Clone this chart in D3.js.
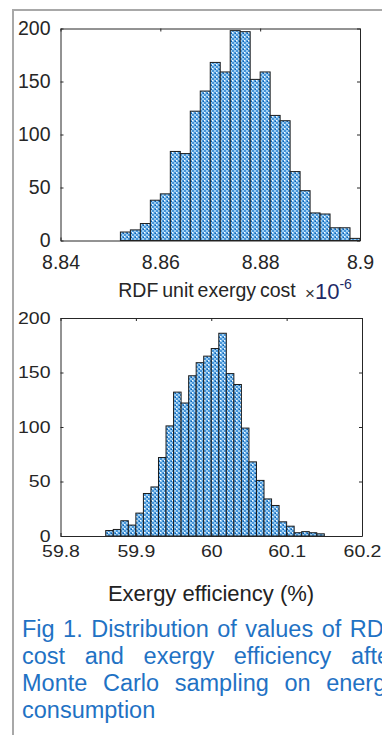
<!DOCTYPE html>
<html>
<head>
<meta charset="utf-8">
<script src="https://cdn.jsdelivr.net/npm/d3@7"></script>
<style>
  html, body { margin: 0; padding: 0; background: #ffffff; }
  svg { display: block; }
  text { font-family: "Liberation Sans", Arial, sans-serif; }
</style>
</head>
<body>
<svg id="fig" width="382" height="735"></svg>
<script>
// Histogram counts after Monte Carlo sampling
const countTicks = [0, 50, 100, 150, 200];

const costTicks = [8.84, 8.86, 8.88, 8.9];
const costTickLabels = ["8.84", "8.86", "8.88", "8.9"];
const costBinStart = 8.852;
const costBinWidth = 0.002;
const costCounts = [8, 10, 16, 38, 44, 84, 82, 122, 141, 168, 159, 198,
                    197, 152, 159, 118, 113, 65, 47, 26, 25, 12, 12, 2];

const effTicks = [59.8, 59.9, 60, 60.1, 60.2];
const effTickLabels = ["59.8", "59.9", "60", "60.1", "60.2"];
const effBinStart = 59.86;
const effBinWidth = 0.01;
const effCounts = [5, 6, 14, 10, 21, 39, 45, 72, 101, 132, 122, 147, 159,
                   165, 172, 186, 149, 139, 99, 68, 51, 34, 28, 13, 9, 3, 4, 3, 2];

const captionLines = [
  "Fig 1. Distribution of values of RDF",
  "cost and exergy efficiency after",
  "Monte Carlo sampling on energy",
  "consumption"
];

const svg = d3.select("#fig");

// dotted blue fill used by the histogram bars
const defs = svg.append("defs");
const pat = defs.append("pattern")
  .attr("id", "barFill")
  .attr("patternUnits", "userSpaceOnUse")
  .attr("width", 4).attr("height", 4);
pat.append("rect").attr("width", 4).attr("height", 4).attr("fill", "#4795d8");
pat.append("rect").attr("x", 0).attr("y", 0).attr("width", 2).attr("height", 2).attr("fill", "#9ccdf2");
pat.append("rect").attr("x", 2).attr("y", 2).attr("width", 2).attr("height", 2).attr("fill", "#9ccdf2");
pat.append("rect").attr("x", 0).attr("y", 0).attr("width", 1).attr("height", 1).attr("fill", "#ffffff");
pat.append("rect").attr("x", 3).attr("y", 1).attr("width", 1).attr("height", 1).attr("fill", "#0a5cae");

// outer frame of the figure panel
svg.append("path")
  .attr("d", "M13,735V10H382")
  .attr("fill", "none")
  .attr("stroke", "#a8a8a8")
  .attr("stroke-width", 2);

function histogram(opts) {
  const g = svg.append("g");
  const x = d3.scaleLinear().domain(opts.xDomain).range([opts.left, opts.right]);
  const y = d3.scaleLinear().domain([0, 200]).range([opts.bottom, opts.top]);

  const bins = opts.counts.map((c, i) => ({
    x0: opts.binStart + i * opts.binWidth,
    x1: opts.binStart + (i + 1) * opts.binWidth,
    n: c
  }));

  g.selectAll("rect.bar")
    .data(bins)
    .join("rect")
    .attr("class", "bar")
    .attr("x", d => x(d.x0))
    .attr("width", d => x(d.x1) - x(d.x0))
    .attr("y", d => y(d.n))
    .attr("height", d => y(0) - y(d.n))
    .attr("fill", "url(#barFill)")
    .attr("stroke", "#1c1c1c")
    .attr("stroke-width", 1);

  // box with inward ticks on all four sides
  const tick = 3;
  const axL = g.append("g").attr("transform", `translate(${opts.left},0)`)
    .call(d3.axisLeft(y).tickValues(countTicks).tickSizeInner(-tick).tickSizeOuter(0).tickPadding(opts.yPad));
  const axR = g.append("g").attr("transform", `translate(${opts.right},0)`)
    .call(d3.axisRight(y).tickValues(countTicks).tickSizeInner(-tick).tickSizeOuter(0).tickFormat(""));
  const axB = g.append("g").attr("transform", `translate(0,${opts.bottom})`)
    .call(d3.axisBottom(x).tickValues(opts.ticks).tickSizeInner(-tick).tickSizeOuter(0)
      .tickPadding(opts.xPad).tickFormat((d, i) => opts.tickLabels[i]));
  const axT = g.append("g").attr("transform", `translate(0,${opts.top})`)
    .call(d3.axisTop(x).tickValues(opts.ticks).tickSizeInner(-tick).tickSizeOuter(0).tickFormat(""));

  [axL, axR, axB, axT].forEach(a => {
    a.select(".domain").attr("stroke", "#262626").attr("stroke-width", 1);
    a.selectAll(".tick line").attr("stroke", "#262626");
    a.selectAll("text")
      .attr("fill", "#262626")
      .style("font-size", opts.tickFont + "px")
      .style("font-family", '"Liberation Sans", Arial, sans-serif');
  });
  if (opts.squash) {
    axB.selectAll("text").attr("transform", `scale(1,${opts.squash})`)
      .attr("y", function () { return +d3.select(this).attr("y") / opts.squash; });
    axL.selectAll("text").attr("transform", `scale(1,${opts.squash})`)
      .attr("y", 0);
  }
  return { g, x, y };
}

const costChart = histogram({
  xDomain: [8.84, 8.9], left: 60.5, right: 360, top: 28.5, bottom: 240.5,
  binStart: costBinStart, binWidth: costBinWidth, counts: costCounts,
  ticks: costTicks, tickLabels: costTickLabels,
  yPad: 10, xPad: 15, tickFont: 19.5
});

svg.append("text")
  .attr("x", 207).attr("y", 297)
  .attr("text-anchor", "middle")
  .attr("fill", "#262626")
  .style("font-size", "19.5px")
  .style("word-spacing", "-1.5px")
  .text("RDF unit exergy cost");

const mult = svg.append("text")
  .attr("x", 305).attr("y", 299)
  .attr("fill", "#1e2a66");
mult.append("tspan").style("font-size", "17px").attr("fill", "#333").text("×");
mult.append("tspan").style("font-size", "22px").text("10");
mult.append("tspan").style("font-size", "14px").attr("dy", -10).text("-6");

const effChart = histogram({
  xDomain: [59.8, 60.2], left: 60.5, right: 362, top: 318, bottom: 536,
  binStart: effBinStart, binWidth: effBinWidth, counts: effCounts,
  ticks: effTicks, tickLabels: effTickLabels,
  yPad: 10, xPad: 9, tickFont: 19.5, squash: 0.85
});

svg.append("text")
  .attr("x", 211).attr("y", 601)
  .attr("text-anchor", "middle")
  .attr("fill", "#222")
  .style("font-size", "22px")
  .text("Exergy efficiency (%)");

// justified caption
const capFont = 23.5, capLeft = 22, capWidth = 376, capTop = 637, capLead = 27;
const cap = svg.append("g")
  .attr("fill", "#1f72c4")
  .style("font-size", capFont + "px");
captionLines.forEach((line, li) => {
  const words = line.split(" ");
  const yy = capTop + li * capLead;
  const nodes = words.map(w => cap.append("text").attr("y", yy).text(w));
  const widths = nodes.map(n => n.node().getComputedTextLength());
  const total = d3.sum(widths);
  const last = li === captionLines.length - 1;
  const gap = (last || words.length < 2) ? capFont * 0.278 : (capWidth - total) / (words.length - 1);
  let xx = capLeft;
  nodes.forEach((n, i) => { n.attr("x", xx); xx += widths[i] + gap; });
});
</script>
</body>
</html>
